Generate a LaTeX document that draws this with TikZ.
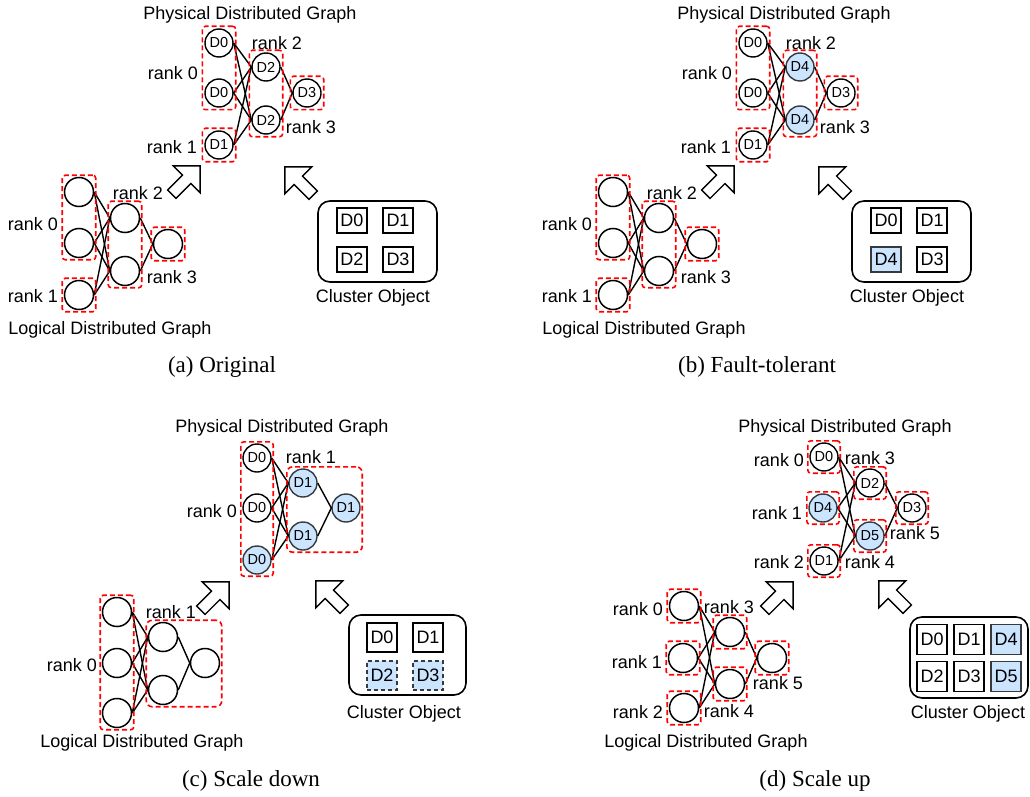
\documentclass[tikz,border=0pt]{standalone}
\usepackage{fontspec}
\setmainfont{Liberation Sans}
\newfontfamily\capfont{Liberation Serif}
\usetikzlibrary{fit}

\definecolor{nodeblue}{HTML}{CCE5FF}
\definecolor{edgegray}{HTML}{36393D}

\tikzset{
  lnode/.style={circle,draw,line width=1.5pt,minimum size=29pt,inner sep=0pt},
  pnode/.style={circle,draw,line width=1.4pt,minimum size=28pt,inner sep=0pt,font=\fontsize{14.5}{16}\selectfont},
  bluenode/.style={fill=nodeblue,draw=edgegray},
  rankbox/.style={draw=red,line width=1.6pt,dash pattern=on 5pt off 3pt,rounded corners=3pt,inner sep=1.5pt},
  lbl/.style={inner sep=0pt,font=\fontsize{18}{20}\selectfont},
  subcap/.style={inner sep=0pt,font=\capfont\fontsize{23}{26}\selectfont},
  devbox/.style={draw,line width=1.3pt,minimum width=30pt,minimum height=25pt,inner sep=0pt,font=\fontsize{18}{20}\selectfont},
  newdev/.style={fill=nodeblue,draw=edgegray},
  clusterbox/.style={draw,line width=1.6pt,rounded corners=12pt},
  link/.style={line width=1.4pt},
  hollowarrow/.pic={
    \draw[line width=1.4pt,line join=miter]
      (-20,-6) -- (1,-6) -- (1,-19) -- (20,0) -- (1,19) -- (1,6) -- (-20,6) -- cycle;
  },
}

\begin{document}
\begin{tikzpicture}[x=1pt,y=-1pt]
\useasboundingbox (0,0) rectangle (1030,797);

% (a) original
\begin{scope}[shift={(0,0)},local bounding box=aa]
    \node[lbl] (ptitle) at (250,15) {Physical Distributed Graph};
    \node[pnode] (P0a) at (219,43) {D0};
    \node[pnode] (P0b) at (219,93) {D0};
    \node[pnode] (P1) at (219,145) {D1};
    \node[pnode] (P2a) at (266,67) {D2};
    \node[pnode] (P2b) at (266,120) {D2};
    \node[pnode] (P3) at (307,93) {D3};

    \draw[link] (P0a.east) -- (P2a.west) (P0a.east) -- (P2b.west);
    \draw[link] (P0b.east) -- (P2a.west) (P0b.east) -- (P2b.west);
    \draw[link] (P1.east) -- (P2a.west) (P1.east) -- (P2b.west);
    \draw[link] (P2a.east) -- (P3.west) (P2b.east) -- (P3.west);

    \node[rankbox,inner sep=2pt,fit=(P0a)(P0b)] (PR0) {};
    \node[rankbox,inner sep=2pt,fit=(P1)] (PR1) {};
    \node[rankbox,inner sep=2pt,fit=(P2a)(P2b)] (PR2) {};
    \node[rankbox,inner sep=2pt,fit=(P3)] (PR3) {};
    \node[lbl] (pr0) at (173,73) {rank 0};
    \node[lbl] (pr1) at (172,147) {rank 1};
    \node[lbl] (pr2) at (277,43) {rank 2};
    \node[lbl] (pr3) at (311,127) {rank 3};

    \node[lnode] (L0a) at (79,192) {};
    \node[lnode] (L0b) at (79,243) {};
    \node[lnode] (L1) at (79,295) {};
    \node[lnode] (L2a) at (125,218) {};
    \node[lnode] (L2b) at (125,271) {};
    \node[lnode] (L3) at (168,244) {};

    \draw[link] (L0a.east) -- (L2a.west) (L0a.east) -- (L2b.west);
    \draw[link] (L0b.east) -- (L2a.west) (L0b.east) -- (L2b.west);
    \draw[link] (L1.east) -- (L2a.west) (L1.east) -- (L2b.west);
    \draw[link] (L2a.east) -- (L3.west) (L2b.east) -- (L3.west);

    \node[rankbox,fit=(L0a)(L0b)] (LR0) {};
    \node[rankbox,fit=(L1)] (LR1) {};
    \node[rankbox,fit=(L2a)(L2b)] (LR2) {};
    \node[rankbox,fit=(L3)] (LR3) {};
    \node[lbl] (lr0) at (33,224) {rank 0};
    \node[lbl] (lr1) at (33,296) {rank 1};
    \node[lbl] (lr2) at (138,193) {rank 2};
    \node[lbl] (lr3) at (172,277) {rank 3};
    \node[lbl] (ltitle) at (110,330) {Logical Distributed Graph};

    \pic[rotate=45] (up1) at (186,180) {hollowarrow};
    \pic[rotate=135] (up2) at (299,181) {hollowarrow};

    \draw[clusterbox] (318,201) rectangle (437,282);
    \node[devbox] (C0) at (352,220.5) {D0};
    \node[devbox] (C1) at (398,220.5) {D1};
    \node[devbox] (C2) at (352,259.5) {D2};
    \node[devbox] (C3) at (398,259.5) {D3};
    \node[lbl] (ctitle) at (373,298) {Cluster Object};

    \node[subcap] (capa) at (222,367) {(a) Original};
\end{scope}

% (b) fault-tolerant
\begin{scope}[shift={(534,0)},local bounding box=bb]
    \node[lbl] (ptitle) at (250,15) {Physical Distributed Graph};
    \node[pnode] (P0a) at (219,43) {D0};
    \node[pnode] (P0b) at (219,93) {D0};
    \node[pnode] (P1) at (219,145) {D1};
    \node[pnode,bluenode] (P2a) at (266,67) {D4};
    \node[pnode,bluenode] (P2b) at (266,120) {D4};
    \node[pnode] (P3) at (307,93) {D3};

    \draw[link] (P0a.east) -- (P2a.west) (P0a.east) -- (P2b.west);
    \draw[link] (P0b.east) -- (P2a.west) (P0b.east) -- (P2b.west);
    \draw[link] (P1.east) -- (P2a.west) (P1.east) -- (P2b.west);
    \draw[link] (P2a.east) -- (P3.west) (P2b.east) -- (P3.west);

    \node[rankbox,inner sep=2pt,fit=(P0a)(P0b)] (PR0) {};
    \node[rankbox,inner sep=2pt,fit=(P1)] (PR1) {};
    \node[rankbox,inner sep=2pt,fit=(P2a)(P2b)] (PR2) {};
    \node[rankbox,inner sep=2pt,fit=(P3)] (PR3) {};
    \node[lbl] (pr0) at (173,73) {rank 0};
    \node[lbl] (pr1) at (172,147) {rank 1};
    \node[lbl] (pr2) at (277,43) {rank 2};
    \node[lbl] (pr3) at (311,127) {rank 3};

    \node[lnode] (L0a) at (79,192) {};
    \node[lnode] (L0b) at (79,243) {};
    \node[lnode] (L1) at (79,295) {};
    \node[lnode] (L2a) at (125,218) {};
    \node[lnode] (L2b) at (125,271) {};
    \node[lnode] (L3) at (168,244) {};

    \draw[link] (L0a.east) -- (L2a.west) (L0a.east) -- (L2b.west);
    \draw[link] (L0b.east) -- (L2a.west) (L0b.east) -- (L2b.west);
    \draw[link] (L1.east) -- (L2a.west) (L1.east) -- (L2b.west);
    \draw[link] (L2a.east) -- (L3.west) (L2b.east) -- (L3.west);

    \node[rankbox,fit=(L0a)(L0b)] (LR0) {};
    \node[rankbox,fit=(L1)] (LR1) {};
    \node[rankbox,fit=(L2a)(L2b)] (LR2) {};
    \node[rankbox,fit=(L3)] (LR3) {};
    \node[lbl] (lr0) at (33,224) {rank 0};
    \node[lbl] (lr1) at (33,296) {rank 1};
    \node[lbl] (lr2) at (138,193) {rank 2};
    \node[lbl] (lr3) at (172,277) {rank 3};
    \node[lbl] (ltitle) at (110,330) {Logical Distributed Graph};

    \pic[rotate=45] (up1) at (186,180) {hollowarrow};
    \pic[rotate=135] (up2) at (299,181) {hollowarrow};

    \draw[clusterbox] (318,201) rectangle (437,282);
    \node[devbox] (C0) at (352,220.5) {D0};
    \node[devbox] (C1) at (398,220.5) {D1};
    \node[devbox,newdev] (C4) at (352,259.5) {D4};
    \node[devbox] (C3) at (398,259.5) {D3};
    \node[lbl] (ctitle) at (373,298) {Cluster Object};

    \node[subcap] (capb) at (223,367) {(b) Fault-tolerant};
\end{scope}

% (c) scale down
\begin{scope}[shift={(0,0)},local bounding box=cc]
    \node[lbl] (ptitle) at (282,428) {Physical Distributed Graph};
    \node[pnode] (P0a) at (257,458) {D0};
    \node[pnode] (P0b) at (257,508) {D0};
    \node[pnode,bluenode] (P0c) at (257,560) {D0};
    \node[pnode,bluenode] (P1a) at (303,483) {D1};
    \node[pnode,bluenode] (P1b) at (303,536) {D1};
    \node[pnode,bluenode] (P1c) at (346,508) {D1};

    \draw[link] (P0a.east) -- (P1a.west) (P0a.east) -- (P1b.west);
    \draw[link] (P0b.east) -- (P1a.west) (P0b.east) -- (P1b.west);
    \draw[link] (P0c.east) -- (P1a.west) (P0c.east) -- (P1b.west);
    \draw[link] (P1a.east) -- (P1c.west) (P1b.east) -- (P1c.west);

    \node[rankbox,fit=(P0a)(P0c)] (PR0) {};
    \node[rankbox,rounded corners=6pt,fit=(P1a)(P1b)(P1c)] (PR1) {};
    \node[lbl] (pr0) at (212,511) {rank 0};
    \node[lbl] (pr1) at (311,457) {rank 1};

    \node[lnode] (L0a) at (117,612) {};
    \node[lnode] (L0b) at (117,663) {};
    \node[lnode] (L0c) at (117,713) {};
    \node[lnode] (L1a) at (163,637) {};
    \node[lnode] (L1b) at (163,690) {};
    \node[lnode] (L1c) at (205,663) {};

    \draw[link] (L0a.east) -- (L1a.west) (L0a.east) -- (L1b.west);
    \draw[link] (L0b.east) -- (L1a.west) (L0b.east) -- (L1b.west);
    \draw[link] (L0c.east) -- (L1a.west) (L0c.east) -- (L1b.west);
    \draw[link] (L1a.east) -- (L1c.west) (L1b.east) -- (L1c.west);

    \node[rankbox,fit=(L0a)(L0c)] (LR0) {};
    \node[rankbox,rounded corners=6pt,fit=(L1a)(L1b)(L1c)] (LR1) {};
    \node[lbl] (lr0) at (72,665) {rank 0};
    \node[lbl] (lr1) at (171,612) {rank 1};
    \node[lbl] (ltitle) at (142,743) {Logical Distributed Graph};

    \pic[rotate=45] (up1) at (215,596) {hollowarrow};
    \pic[rotate=135] (up2) at (330,595) {hollowarrow};

    \draw[clusterbox] (349,615) rectangle (466,695);
    \node[devbox,minimum height=29pt] (C0) at (382,637.5) {D0};
    \node[devbox,minimum height=29pt] (C1) at (428,637.5) {D1};
    \node[devbox,minimum height=29pt,newdev,dash pattern=on 4pt off 3pt] (C2) at (382,675.5) {D2};
    \node[devbox,minimum height=29pt,newdev,dash pattern=on 4pt off 3pt] (C3) at (428,675.5) {D3};
    \node[lbl] (ctitle) at (404,714) {Cluster Object};

    \node[subcap] (capc) at (251,781) {(c) Scale down};
\end{scope}

% (d) scale up
\begin{scope}[shift={(0,0)},local bounding box=dd]
    \node[lbl] (ptitle) at (845,428) {Physical Distributed Graph};
    \node[pnode] (P0) at (824,457) {D0};
    \node[pnode,bluenode] (P1) at (823,508) {D4};
    \node[pnode] (P2) at (824,561) {D1};
    \node[pnode] (P3) at (870,483) {D2};
    \node[pnode,bluenode] (P4) at (870,536) {D5};
    \node[pnode] (P5) at (912,508) {D3};

    \draw[link] (P0.east) -- (P3.west) (P0.east) -- (P4.west);
    \draw[link] (P1.east) -- (P3.west) (P1.east) -- (P4.west);
    \draw[link] (P2.east) -- (P3.west) (P2.east) -- (P4.west);
    \draw[link] (P3.east) -- (P5.west) (P4.east) -- (P5.west);

    \node[rankbox,fit=(P0)] (PR0) {};
    \node[rankbox,fit=(P1)] (PR1) {};
    \node[rankbox,fit=(P2)] (PR2) {};
    \node[rankbox,fit=(P3)] (PR3) {};
    \node[rankbox,fit=(P4)] (PR4) {};
    \node[rankbox,fit=(P5)] (PR5) {};
    \node[lbl] (pr0) at (779,460) {rank 0};
    \node[lbl] (pr1) at (777,513) {rank 1};
    \node[lbl] (pr2) at (779,562) {rank 2};
    \node[lbl] (pr3) at (870,458) {rank 3};
    \node[lbl] (pr4) at (870,562) {rank 4};
    \node[lbl] (pr5) at (915,533) {rank 5};

    \node[lnode] (L0) at (684,606) {};
    \node[lnode] (L1) at (683,658) {};
    \node[lnode] (L2) at (684,708) {};
    \node[lnode] (L3) at (730,632) {};
    \node[lnode] (L4) at (730,684) {};
    \node[lnode] (L5) at (772,658) {};

    \draw[link] (L0.east) -- (L3.west) (L0.east) -- (L4.west);
    \draw[link] (L1.east) -- (L3.west) (L1.east) -- (L4.west);
    \draw[link] (L2.east) -- (L3.west) (L2.east) -- (L4.west);
    \draw[link] (L3.east) -- (L5.west) (L4.east) -- (L5.west);

    \node[rankbox,fit=(L0)] (LR0) {};
    \node[rankbox,fit=(L1)] (LR1) {};
    \node[rankbox,fit=(L2)] (LR2) {};
    \node[rankbox,fit=(L3)] (LR3) {};
    \node[rankbox,fit=(L4)] (LR4) {};
    \node[rankbox,fit=(L5)] (LR5) {};
    \node[lbl] (lr0) at (638,609) {rank 0};
    \node[lbl] (lr1) at (637,662) {rank 1};
    \node[lbl] (lr2) at (638,712) {rank 2};
    \node[lbl] (lr3) at (729,607) {rank 3};
    \node[lbl] (lr4) at (729,711) {rank 4};
    \node[lbl] (lr5) at (778,683) {rank 5};
    \node[lbl] (ltitle) at (706,743) {Logical Distributed Graph};

    \pic[rotate=45] (up1) at (779,596) {hollowarrow};
    \pic[rotate=135] (up2) at (893,595) {hollowarrow};

    \draw[clusterbox] (910,617) rectangle (1028,698);
    \node[devbox,minimum height=30pt] (C0) at (932,639.5) {D0};
    \node[devbox,minimum height=30pt] (C1) at (969,639.5) {D1};
    \node[devbox,minimum height=30pt,newdev] (C4) at (1006,639.5) {D4};
    \node[devbox,minimum height=30pt] (C2) at (932,676.5) {D2};
    \node[devbox,minimum height=30pt] (C3) at (969,676.5) {D3};
    \node[devbox,minimum height=30pt,newdev] (C5) at (1006,676.5) {D5};
    \node[lbl] (ctitle) at (968,714) {Cluster Object};

    \node[subcap] (capd) at (815,781) {(d) Scale up};
\end{scope}
\end{tikzpicture}
\end{document}
